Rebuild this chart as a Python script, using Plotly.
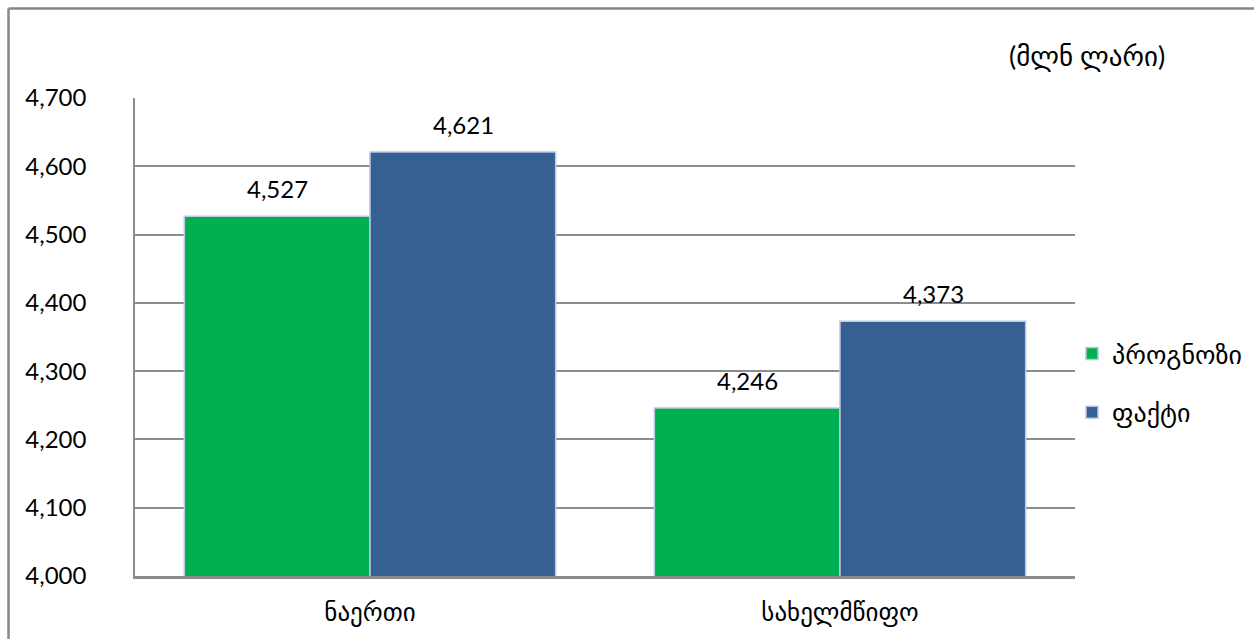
import plotly.graph_objects as go

# Budget revenues, million GEL
categories = ["ნაერთი", "სახელმწიფო"]
forecast = [4527, 4246]
actual = [4621, 4373]
series_names = ["პროგნოზი", "ფაქტი"]
y_ticks = [4000, 4100, 4200, 4300, 4400, 4500, 4600, 4700]

FONT = "Lato, 'DejaVu Sans', sans-serif"
GREEN = "#00b050"
BLUE = "#376092"
OUTLINE = "#b9c8e6"
GRID = "#8c8c8c"

fig = go.Figure()
fig.add_trace(go.Bar(x=categories, y=forecast, name=series_names[0], legendgroup="a",
                     marker=dict(color=GREEN, line=dict(color=OUTLINE, width=1.5))))
fig.add_trace(go.Bar(x=categories, y=actual, name=series_names[1], legendgroup="b",
                     marker=dict(color=BLUE, line=dict(color=OUTLINE, width=1.5))))

# value labels above each bar
annotations = []
for vals, shift in ((forecast, -93), (actual, 93)):
    for cat, v in zip(categories, vals):
        annotations.append(dict(x=cat, y=v, xref="x", yref="y", xshift=shift,
                                yshift=11, yanchor="bottom", showarrow=False,
                                text=f"{v:,}", font=dict(size=24, color="black", family=FONT)))
annotations.append(dict(x=(1087 - 135) / 940, y=1.0 + 43 / 478, xref="paper", yref="paper",
                        xanchor="center", yanchor="middle", showarrow=False,
                        text="(მლნ ლარი)", font=dict(size=27, color="black", family=FONT)))

fig.update_layout(
    width=1254, height=639,
    margin=dict(l=135, r=179, t=98, b=63, autoexpand=False),
    paper_bgcolor="white", plot_bgcolor="white",
    barmode="group", bargap=0.21, bargroupgap=0,
    font=dict(family=FONT, size=22, color="black"),
    showlegend=True,
    legend=dict(x=(1072 - 135) / 940, y=1 - (383 - 98) / 478, xanchor="left", yanchor="middle",
                font=dict(size=26, family=FONT), traceorder="grouped", tracegroupgap=22,
                itemwidth=30, bgcolor="rgba(0,0,0,0)"),
    annotations=annotations,
    shapes=[
        # outer frame (left and top edges)
        dict(type="line", xref="paper", yref="paper",
             x0=(8.5 - 135) / 940, x1=(8.5 - 135) / 940,
             y0=-0.2, y1=1 + (98 - 8.5) / 478, line=dict(color="#878787", width=2.5)),
        dict(type="line", xref="paper", yref="paper",
             x0=(8.5 - 135) / 940, x1=1.3,
             y0=1 + (98 - 8.5) / 478, y1=1 + (98 - 8.5) / 478,
             line=dict(color="#878787", width=2.5)),
    ],
)
fig.update_yaxes(range=[4000, 4700], tickvals=y_ticks, tickformat=",",
                 showgrid=True, gridcolor=GRID, gridwidth=1.5,
                 showline=True, linecolor=GRID, linewidth=1.5,
                 ticks="", ticklabelstandoff=42, zeroline=False,
                 tickfont=dict(size=24, family=FONT, color="black"))
fig.update_xaxes(showline=True, linecolor=GRID, linewidth=2.5, ticks="",
                 ticklabelstandoff=12,
                 tickfont=dict(size=25, family=FONT, color="black"))

fig.write_html("out.html")
